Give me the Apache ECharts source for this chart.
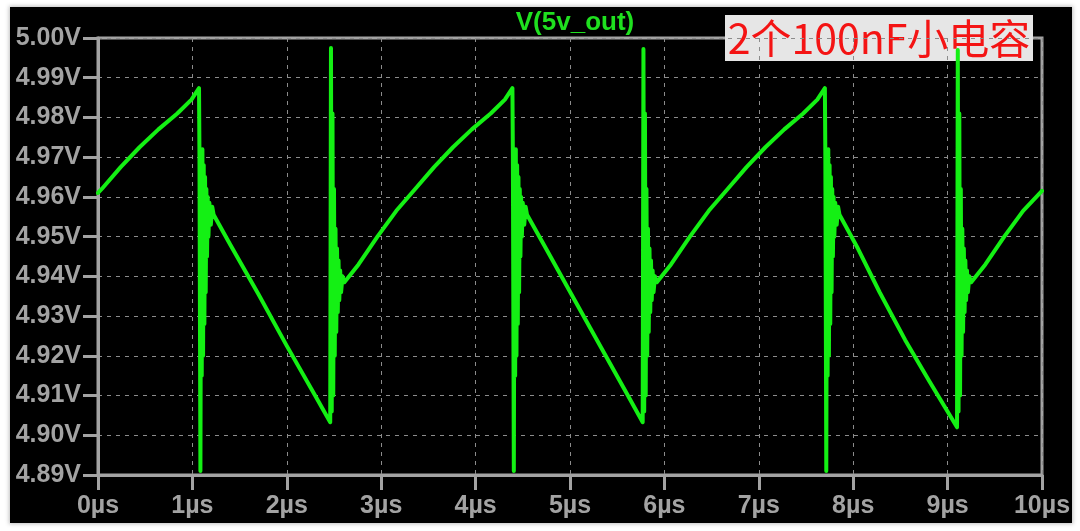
<!DOCTYPE html>
<html>
<head>
<meta charset="utf-8">
<script src="https://cdn.jsdelivr.net/npm/echarts@6/dist/echarts.min.js"></script>
<style>
  html, body { margin: 0; padding: 0; background: #ffffff; }
  #wrap { position: relative; width: 1080px; height: 531px; overflow: hidden; background: #ffffff; }
  #bg { position: absolute; left: 10px; top: 7px; width: 1062px; height: 516px; background: #000000;
        box-shadow: 0 0 4px 1px rgba(0,0,0,0.25); }
  #chart { position: absolute; left: 0; top: 0; width: 1080px; height: 531px; }
</style>
</head>
<body>
<div id="wrap"><div id="bg"></div><div id="chart"></div></div>
<script>
// ---- data (time in µs, voltage in V) ----
const titleText = 'V(5v_out)';
const noteText = '2个100nF小电容';
const xTickLabels = ['0µs','1µs','2µs','3µs','4µs','5µs','6µs','7µs','8µs','9µs','10µs'];
const yTickLabels = ['4.89V','4.90V','4.91V','4.92V','4.93V','4.94V','4.95V','4.96V','4.97V','4.98V','4.99V','5.00V'];

const rise0 = [[0,4.961],[0.04,4.962],[0.24,4.9675],[0.44,4.9725],[0.64,4.977],[0.84,4.981],[0.99,4.9845],[1.07,4.9874]];
const fall1 = [[1.075,4.970],[1.085,4.891],[1.092,4.962],[1.099,4.915],[1.106,4.972],[1.113,4.920],[1.120,4.968],[1.127,4.928],[1.134,4.965],[1.141,4.936],[1.148,4.962],[1.155,4.945],[1.162,4.960],[1.170,4.950],[1.180,4.9585],[1.195,4.953],[1.210,4.9575],[1.225,4.9555]];
const decl1 = [[1.40,4.948],[1.70,4.9355],[2.00,4.9225],[2.30,4.910],[2.46,4.9033]];
const jump1 = [[2.468,4.9975],[2.476,4.906],[2.484,4.981],[2.492,4.910],[2.500,4.962],[2.508,4.920],[2.516,4.952],[2.524,4.926],[2.532,4.947],[2.540,4.931],[2.548,4.944],[2.556,4.934],[2.565,4.9415],[2.575,4.936],[2.590,4.940],[2.610,4.9385]];
const rise1 = [[2.76,4.943],[2.96,4.950],[3.16,4.9565],[3.36,4.962],[3.56,4.9675],[3.76,4.9725],[3.96,4.977],[4.16,4.981],[4.31,4.9845],[4.39,4.9874]];
const fall2 = [[4.395,4.970],[4.405,4.891],[4.412,4.962],[4.419,4.915],[4.426,4.972],[4.433,4.920],[4.440,4.968],[4.447,4.928],[4.454,4.965],[4.461,4.936],[4.468,4.962],[4.475,4.945],[4.482,4.960],[4.490,4.950],[4.500,4.9585],[4.515,4.953],[4.530,4.9575],[4.545,4.9555]];
const decl2 = [[4.75,4.9468],[5.05,4.934],[5.35,4.9212],[5.60,4.9106],[5.77,4.9033]];
const jump2 = [[5.778,4.9972],[5.786,4.906],[5.794,4.981],[5.802,4.910],[5.810,4.962],[5.818,4.920],[5.826,4.952],[5.834,4.926],[5.842,4.947],[5.850,4.931],[5.858,4.944],[5.866,4.934],[5.875,4.9415],[5.885,4.936],[5.900,4.940],[5.920,4.9385]];
const rise2 = [[6.07,4.943],[6.27,4.950],[6.47,4.9565],[6.67,4.962],[6.87,4.9675],[7.07,4.9725],[7.27,4.977],[7.47,4.981],[7.62,4.9845],[7.70,4.9874]];
const fall3 = [[7.705,4.970],[7.715,4.891],[7.722,4.962],[7.729,4.915],[7.736,4.972],[7.743,4.920],[7.750,4.968],[7.757,4.928],[7.764,4.965],[7.771,4.936],[7.778,4.962],[7.785,4.945],[7.792,4.960],[7.800,4.950],[7.810,4.9585],[7.825,4.953],[7.840,4.9575],[7.855,4.9555]];
const decl3 = [[8.05,4.947],[8.28,4.936],[8.55,4.924],[8.81,4.9135],[9.10,4.902]];
const jump3 = [[9.108,4.9970],[9.116,4.906],[9.124,4.981],[9.132,4.910],[9.140,4.962],[9.148,4.920],[9.156,4.952],[9.164,4.926],[9.172,4.947],[9.180,4.931],[9.188,4.944],[9.196,4.934],[9.205,4.9415],[9.215,4.936],[9.230,4.940],[9.250,4.9385]];
const rise3 = [[9.40,4.943],[9.60,4.950],[9.80,4.9565],[10.0,4.9615]];

const waveform = [].concat(rise0, fall1, decl1, jump1, rise1, fall2, decl2, jump2, rise2, fall3, decl3, jump3, rise3);

const xMin = 0, xMax = 10, xStep = 1;
const yMin = 4.89, yMax = 5.00, yStep = 0.01;

// ---- chart ----
const gray = '#a3a3a3';
const font = '"Liberation Sans", Arial, sans-serif';
const chart = echarts.init(document.getElementById('chart'), null, { renderer: 'canvas' });
chart.setOption({
  backgroundColor: 'transparent',
  animation: false,
  title: {
    text: titleText,
    left: 570, top: 5, textAlign: 'center',
    textStyle: { color: '#1fe01f', fontFamily: font, fontWeight: 'bold', fontSize: 26 }
  },
  grid: {
    left: 98, right: 38, top: 38, bottom: 56,
    show: true, borderColor: gray, borderWidth: 3, backgroundColor: 'transparent'
  },
  xAxis: {
    type: 'value', min: xMin, max: xMax, interval: xStep,
    axisLine: { show: true, lineStyle: { color: gray, width: 3 } },
    axisTick: { show: true, length: 15, lineStyle: { color: gray, width: 3 } },
    axisLabel: {
      color: gray, fontFamily: font, fontWeight: 'bold', fontSize: 25, margin: 19,
      formatter: (v) => xTickLabels[Math.round((v - xMin) / xStep)]
    },
    splitLine: { show: true, lineStyle: { color: '#8c8c8c', width: 1, type: [4, 5] } }
  },
  yAxis: {
    type: 'value', min: yMin, max: yMax, interval: yStep,
    axisLine: { show: true, lineStyle: { color: gray, width: 3 } },
    axisTick: { show: true, length: 15, lineStyle: { color: gray, width: 3 } },
    axisLabel: {
      color: gray, fontFamily: font, fontWeight: 'bold', fontSize: 25, margin: 17,
      formatter: (v) => yTickLabels[Math.round((v - yMin) / yStep)]
    },
    splitLine: { show: true, lineStyle: { color: '#8c8c8c', width: 1, type: [4, 5] } }
  },
  series: [{
    type: 'line',
    data: waveform,
    showSymbol: false,
    symbol: 'none',
    sampling: null,
    clip: true,
    lineStyle: { color: '#14f014', width: 4, join: 'round', cap: 'round' },
    z: 3
  }],
  graphic: [{
    type: 'group', left: 725, top: 15, z: 100,
    children: [
      { type: 'rect', shape: { x: 0, y: 0, width: 308, height: 46 }, style: { fill: '#e6e6e6' } },
      { type: 'text', x: 154, y: 23,
        style: { text: noteText, fill: '#f41414', font: '41px "Noto Sans CJK SC", "Noto Sans", sans-serif',
                 textAlign: 'center', textVerticalAlign: 'middle' } }
    ]
  }]
});
</script>
</body>
</html>
